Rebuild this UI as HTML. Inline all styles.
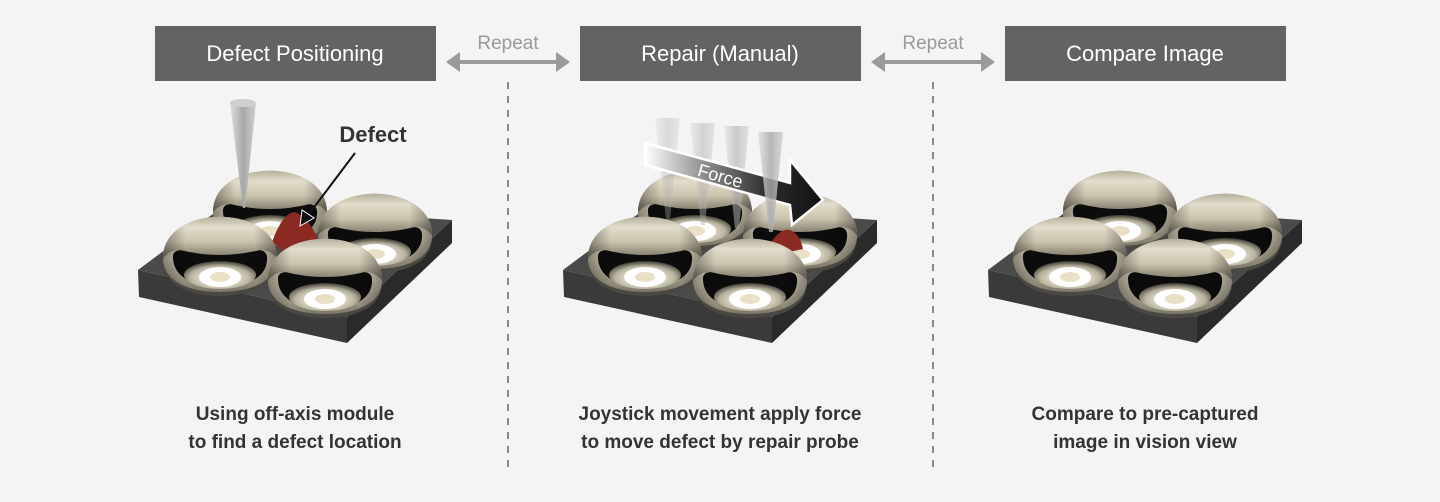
<!DOCTYPE html>
<html><head><meta charset="utf-8"><style>
html,body{margin:0;padding:0;background:#f4f4f4;}
svg{display:block;font-family:"Liberation Sans",Arial,sans-serif;}
</style></head><body>
<svg width="1440" height="502" viewBox="0 0 1440 502" xmlns="http://www.w3.org/2000/svg">
<defs>
<linearGradient id="shell" x1="0" y1="0" x2="0" y2="1">
<stop offset="0" stop-color="#b5af9c"/><stop offset="0.25" stop-color="#e2dccb"/><stop offset="0.6" stop-color="#cbc4ae"/><stop offset="1" stop-color="#7a7566"/></linearGradient>
<linearGradient id="shellx" x1="0" y1="0" x2="1" y2="0">
<stop offset="0" stop-color="#000" stop-opacity="0.35"/><stop offset="0.2" stop-color="#000" stop-opacity="0"/><stop offset="0.8" stop-color="#000" stop-opacity="0"/><stop offset="1" stop-color="#000" stop-opacity="0.35"/></linearGradient>
<radialGradient id="inner" cx="0.5" cy="0.6" r="0.6">
<stop offset="0.3" stop-color="#f0ece0"/><stop offset="0.7" stop-color="#b8b29e"/><stop offset="1" stop-color="#3a3830"/></radialGradient>
<linearGradient id="force" x1="0" y1="0" x2="1" y2="0">
<stop offset="0" stop-color="#ffffff"/><stop offset="0.35" stop-color="#888"/><stop offset="0.7" stop-color="#2a2a2a"/><stop offset="1" stop-color="#111"/></linearGradient>
<linearGradient id="probe" x1="0" y1="0" x2="1" y2="0">
<stop offset="0" stop-color="#e0e0e0"/><stop offset="0.5" stop-color="#a8a8a8"/><stop offset="1" stop-color="#d0d0d0"/></linearGradient>
<g id="dome">
<path d="M-57,44 C-57,-12 57,-12 57,44 C57,70 30,80 0,80 C-30,80 -57,70 -57,44Z" fill="#4a4842"/>
<path d="M-57,42 C-57,-13 57,-13 57,42 C57,66 30,76 0,76 C-30,76 -57,66 -57,42Z" fill="url(#shell)"/>
<path d="M-47,42 Q-48,34 -38,34 Q0,40 38,34 Q48,34 47,44 Q46,68 0,73 Q-46,68 -47,42Z" fill="#0c0c0c"/>
<ellipse cx="0" cy="59" rx="36" ry="14" fill="url(#inner)"/>
<ellipse cx="0" cy="61" rx="21" ry="10" fill="#ffffff"/>
<ellipse cx="0" cy="61" rx="10" ry="5" fill="#e9e0c6"/>
<path d="M-57,42 C-57,-13 57,-13 57,42 Q50,34 40,34 Q0,44 -40,34 Q-50,34 -57,42Z" fill="url(#shell)"/>
<path d="M-57,42 C-57,-13 57,-13 57,42 C57,66 30,76 0,76 C-30,76 -57,66 -57,42Z" fill="url(#shellx)"/>
</g>
<g id="board">
<polygon points="138,270 347,317 347,343 139,297" fill="#3a3a3a"/>
<polygon points="347,317 452,220 452,243 347,343" fill="#2a2a2a"/>
<polygon points="138,270 225,205 452,220 347,317" fill="#4a4a4a"/>
</g>
</defs>
<rect width="1440" height="502" fill="#f4f4f4"/>

<rect x="155" y="26" width="281" height="55" fill="#636363"/>
<text x="295" y="61" font-size="22" fill="#fff" text-anchor="middle">Defect Positioning</text>
<rect x="580" y="26" width="281" height="55" fill="#636363"/>
<text x="720" y="61" font-size="22" fill="#fff" text-anchor="middle">Repair (Manual)</text>
<rect x="1005" y="26" width="281" height="55" fill="#636363"/>
<text x="1145" y="61" font-size="22" fill="#fff" text-anchor="middle">Compare Image</text>

<g fill="#9a9a9a">
<text x="508" y="49" font-size="19" text-anchor="middle">Repeat</text>
<rect x="455" y="60" width="106" height="4"/>
<polygon points="446,62 460,52 460,72"/><polygon points="570,62 556,52 556,72"/>
<text x="933" y="49" font-size="19" text-anchor="middle">Repeat</text>
<rect x="880" y="60" width="106" height="4"/>
<polygon points="871,62 885,52 885,72"/><polygon points="995,62 981,52 981,72"/>
</g>
<line x1="508" y1="82" x2="508" y2="474" stroke="#666" stroke-width="1.5" stroke-dasharray="7,7"/>
<line x1="933" y1="82" x2="933" y2="474" stroke="#666" stroke-width="1.5" stroke-dasharray="7,7"/>

<!-- panel 1 -->
<use href="#board"/>
<use href="#dome" x="270" y="170"/>
<use href="#dome" x="375" y="193"/>
<path d="M272,242 Q283,212 295,212 Q310,218 320,244 L290,256Z" fill="#8a2a22"/>
<use href="#dome" x="220" y="216"/>
<use href="#dome" x="325" y="238"/>
<polygon points="230,103 256,103 245,208 243,208" fill="url(#probe)"/>
<ellipse cx="243" cy="103" rx="13" ry="4" fill="#cfcfcf"/>
<text x="373" y="142" font-size="22" font-weight="bold" fill="#333" text-anchor="middle">Defect</text>
<line x1="355" y1="153" x2="306" y2="218" stroke="#111" stroke-width="2"/>
<polygon points="300,226 302,210 314,218" fill="#111" stroke="#fff" stroke-width="1"/>

<!-- panel 2 -->
<g transform="translate(425,0)">
<use href="#board"/>
<use href="#dome" x="270" y="170"/>
<use href="#dome" x="375" y="193"/>
<path d="M345,244 Q355,228 365,230 Q375,234 378,249 L355,254Z" fill="#8a2a22"/>
<use href="#dome" x="220" y="216"/>
<use href="#dome" x="325" y="238"/>
</g>
<g opacity="0.35"><polygon points="655,118 680,118 670,220 666,220" fill="url(#probe)"/></g>
<g opacity="0.45"><polygon points="690,123 715,123 705,225 701,225" fill="url(#probe)"/></g>
<g opacity="0.55"><polygon points="724,126 749,126 739,228 735,228" fill="url(#probe)"/></g>
<polygon points="645,143 790,183 790,160 823,200 792,225 790,205 645,165" fill="url(#force)" stroke="#fff" stroke-width="2.5"/>
<text x="720" y="182" font-size="18" fill="#fff" text-anchor="middle" transform="rotate(16 720 177)">Force</text>
<g opacity="0.8"><polygon points="758,132 783,132 773,232 769,232" fill="url(#probe)"/></g>

<!-- panel 3 -->
<g transform="translate(850,0)">
<use href="#board"/>
<use href="#dome" x="270" y="170"/>
<use href="#dome" x="375" y="193"/>
<use href="#dome" x="220" y="216"/>
<use href="#dome" x="325" y="238"/>
</g>

<g font-size="19" font-weight="bold" fill="#333" text-anchor="middle">
<text x="295" y="420">Using off-axis module</text>
<text x="295" y="448">to find a defect location</text>
<text x="720" y="420">Joystick movement apply force</text>
<text x="720" y="448">to move defect by repair probe</text>
<text x="1145" y="420">Compare to pre-captured</text>
<text x="1145" y="448">image in vision view</text>
</g>
</svg>
</body></html>
